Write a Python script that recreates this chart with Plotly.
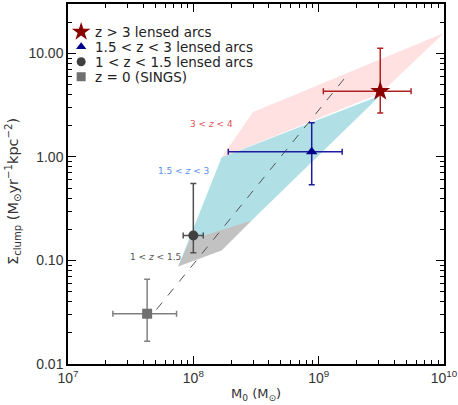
import numpy as np
import plotly.graph_objects as go

# ---- data ----
labels = ["z > 3 lensed arcs", "1.5 < z < 3 lensed arcs", "1 < z < 1.5 lensed arcs", "z = 0 (SINGS)"]
m0 = [3.1e9, 8.8e8, 1.0e8, 4.28e7]
m0_lo = [1.09e9, 1.9e8, 8.3e7, 2.28e7]
m0_hi = [5.46e9, 1.54e9, 1.2e8, 7.35e7]
sig = [4.3, 1.12, 0.174, 0.0306]
sig_lo = [2.65, 0.54, 0.119, 0.0166]
sig_hi = [11.2, 2.14, 0.555, 0.066]
symbols = ["star", "triangle-up", "circle", "square"]
mcolors = ["#8b0000", "#00008b", "#404040", "#707070"]
ecolors = ["#b22222", "#1c1c9c", "#505050", "#808080"]
msizes = [15, 10, 10, 10]

# shaded regions (polygons)
pink_x = [1.68e8, 3.0e8, 1.0e10, 3.1e9]
pink_y = [0.99, 2.71, 15.7, 4.1]
cyan_x = [1.68e8, 3.1e9, 2.92e8, 7.57e7]
cyan_y = [0.99, 3.92, 0.243, 0.0875]
gray_x = [7.57e7, 9.4e7, 2.92e8, 1.68e8]
gray_y = [0.0875, 0.158, 0.243, 0.125]

# dashed relation
line_x = [5.08e7, 1.62e9]
line_y = [0.0336, 5.8]

region_labels = ["3 < <i>z</i> < 4", "1.5 < <i>z</i> < 3", "1 < <i>z</i> < 1.5"]
region_lx = [9.0e7, 5.0e7, 3.0e7]
region_ly = [2.09, 0.733, 0.107]
region_colors = ["#e05555", "#5b8ff0", "#555555"]

xtick_vals = [1e7, 1e8, 1e9, 1e10]
xtick_text = ["10<sup>7</sup>", "10<sup>8</sup>", "10<sup>9</sup>", "10<sup>10</sup>"]
ytick_vals = [0.01, 0.1, 1, 10]
ytick_text = ["0.01", "0.10", "1.00", "10.00"]

fig = go.Figure()

def poly(xs, ys, color):
    fig.add_trace(go.Scatter(x=xs + [xs[0]], y=ys + [ys[0]], fill="toself", fillcolor=color,
                             mode="none", line=dict(width=0), showlegend=False, hoverinfo="skip"))

poly(pink_x, pink_y, "#ffe1e1")
poly(cyan_x, cyan_y, "#b0e0e6")
poly(gray_x, gray_y, "#c2c2c2")

fig.add_trace(go.Scatter(x=line_x, y=line_y, mode="lines",
                         line=dict(color="#555555", width=1, dash="dash"), showlegend=False))

for i in range(4):
    fig.add_trace(go.Scatter(
        x=[m0[i]], y=[sig[i]], mode="markers", name=labels[i], showlegend=False,
        marker=dict(symbol=symbols[i], size=msizes[i], color=mcolors[i]),
        error_x=dict(type="data", symmetric=False, array=[m0_hi[i] - m0[i]],
                     arrayminus=[m0[i] - m0_lo[i]], color=ecolors[i], thickness=1.5, width=3),
        error_y=dict(type="data", symmetric=False, array=[sig_hi[i] - sig[i]],
                     arrayminus=[sig[i] - sig_lo[i]], color=ecolors[i], thickness=1.5, width=3),
    ))

for t, x, y, c in zip(region_labels, region_lx, region_ly, region_colors):
    fig.add_annotation(x=np.log10(x), y=np.log10(y), xref="x", yref="y", text=t, showarrow=False,
                       font=dict(size=9, color=c, family="DejaVu Sans"), xanchor="left", yanchor="middle")

# ---- hand-built legend (on an overlay axis with 0..1 range) ----
leg_mx = 0.035
leg_tx = 0.066
leg_y = [0.923, 0.8814, 0.8397, 0.798]
leg_sizes = [14, 9, 9, 9]
for i in range(4):
    fig.add_trace(go.Scatter(x=[leg_mx], y=[leg_y[i]], xaxis="x2", yaxis="y2", mode="markers",
                             marker=dict(symbol=symbols[i], size=leg_sizes[i], color=mcolors[i]),
                             showlegend=False, hoverinfo="skip"))
    fig.add_annotation(x=leg_tx, y=leg_y[i], xref="paper", yref="paper",
                       text=labels[i].replace("<", "&lt;").replace(">", "&gt;"),
                       showarrow=False, xanchor="left", yanchor="middle",
                       font=dict(size=13.5, color="#222222", family="DejaVu Sans"))

minor_x = [k * 10 ** e for e in range(7, 10) for k in range(2, 10)]
minor_y = [k * 10 ** e for e in range(-2, 2) for k in range(2, 10) if k * 10 ** e <= 30]

axis_common = dict(showline=True, linecolor="black", linewidth=1.5, mirror="allticks",
                   ticks="inside", ticklen=8, tickwidth=1.2, tickcolor="black",
                   showgrid=False, zeroline=False, automargin=False,
                   tickfont=dict(size=14, color="#333333", family="Liberation Sans"))

xaxis = dict(type="log", range=[7, 10], tickmode="array", tickvals=xtick_vals, ticktext=xtick_text,
             minor=dict(tickmode="array", tickvals=minor_x, ticks="inside", ticklen=4,
                        tickcolor="black", tickwidth=1, showgrid=False), **axis_common)
yaxis = dict(type="log", range=[-2, 1.4771], tickmode="array", tickvals=ytick_vals, ticktext=ytick_text,
             minor=dict(tickmode="array", tickvals=minor_y, ticks="inside", ticklen=4,
                        tickcolor="black", tickwidth=1, showgrid=False), **axis_common)

fig.add_annotation(x=0.5, y=-0.086, xref="paper", yref="paper", showarrow=False,
                   text="M<sub>0</sub> (M<sub>⊙</sub>)", xanchor="center", yanchor="middle",
                   font=dict(size=13, color="#333333", family="DejaVu Sans"))
fig.add_annotation(x=-0.146, y=0.478, xref="paper", yref="paper", showarrow=False, textangle=-90,
                   text="Σ<sub>clump</sub> (M<sub>⊙</sub>yr<sup>−1</sup>kpc<sup>−2</sup>)",
                   xanchor="center", yanchor="middle",
                   font=dict(size=14.5, color="#333333", family="DejaVu Sans"))

fig.update_layout(
    width=458, height=405,
    margin=dict(l=68, r=14, t=4, b=41, autoexpand=False),
    paper_bgcolor="white", plot_bgcolor="white",
    font=dict(family="Liberation Sans, Arial, sans-serif", color="#333333"),
    xaxis=xaxis, yaxis=yaxis,
    xaxis2=dict(overlaying="x", range=[0, 1], visible=False, anchor="y2"),
    yaxis2=dict(overlaying="y", range=[0, 1], visible=False, anchor="x2"),
    showlegend=False,
)

fig.write_html("out.html", config={"displayModeBar": False},
               post_script="document.body.style.margin='0';")
